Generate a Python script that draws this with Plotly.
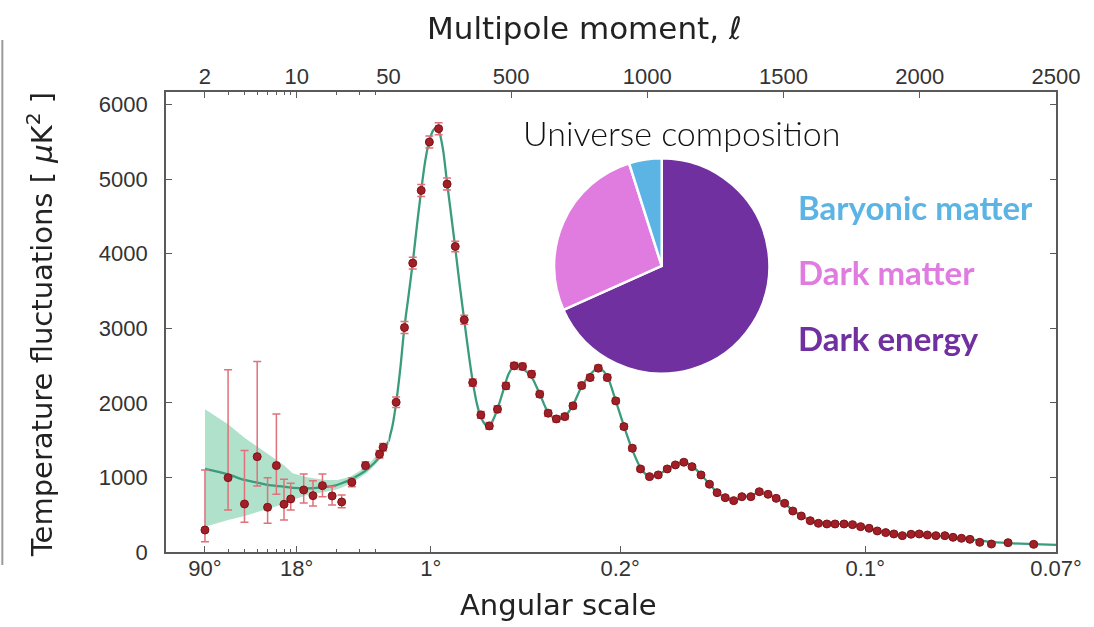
import numpy as np
import plotly.graph_objects as go

# ---------------- data ----------------
# measured band powers (multipole, D_ell in muK^2) with asymmetric errors
ell_pts = [2, 3, 4, 5, 6, 7, 8, 9, 11.3, 13.3, 15.7, 18.6, 22, 26.3, 33.4, 42.7, 45.5,
           78, 108.6, 139, 170, 200, 234, 265, 295, 328, 359, 389, 420, 450, 481, 511,
           542, 575, 605, 636, 666, 697, 727, 759, 790, 820, 853, 884, 914, 945, 975,
           1008, 1040, 1073, 1103, 1134, 1164, 1197, 1228, 1256, 1286, 1317, 1347, 1380,
           1411, 1443, 1473, 1504, 1534, 1565, 1598, 1628, 1659, 1689, 1722, 1753, 1783,
           1814, 1844, 1875, 1905, 1936, 1968, 1998, 2028, 2059, 2092, 2122, 2153, 2184,
           2220, 2263, 2324, 2418]
D_pts = [295, 997, 644, 1279, 600, 1159, 640, 711, 832, 756, 890, 752, 671, 935, 1159, 1311, 1405,
         2009, 3011, 3875, 4850, 5499, 5678, 4935, 4098, 3114, 2272, 1839, 1691, 1915, 2228, 2497,
         2488, 2385, 2117, 1862, 1785, 1816, 1960, 2232, 2340, 2466, 2340, 2027, 1682, 1392, 1114,
         1011, 1034, 1114, 1168, 1204, 1145, 1034, 909, 796, 729, 689, 742, 742,
         809, 774, 720, 653, 550, 483, 420, 385, 376, 376, 376, 367, 340,
         318, 282, 260, 242, 219, 238, 242, 228, 219, 219, 197, 184, 170,
         130, 107, 125, 103]
err_up = [805, 1446, 716, 1275, 397, 693, 336, 211, 215, 201, 157, 125, 94, 60, 50, 50, 50,
          70, 80, 80, 80, 80, 80, 80, 70, 60, 50, 45, 45, 45, 45, 45,
          45, 45, 40, 40, 40, 40, 40, 40, 40, 40, 40, 35, 35, 35, 30]
err_up += [25] * (len(ell_pts) - len(err_up))
err_dn = [157, 433, 246, 393, 215, 385, 210, 147, 174, 139, 148, 121, 76, 60, 50, 50, 50,
          70, 80, 80, 80, 80, 80, 80, 70, 60, 50, 45, 45, 45, 45, 45,
          45, 45, 40, 40, 40, 40, 40, 40, 40, 40, 40, 35, 35, 35, 30]
err_dn += [25] * (len(ell_pts) - len(err_dn))

# best-fit model curve
ell_model = [2, 3, 4, 5, 6, 8, 9, 11, 13, 16, 19, 22, 26, 34, 43, 50,
             65, 78, 93, 108, 124, 139, 155, 170, 185, 200, 215, 225, 235, 250, 265, 280,
             295, 310, 328, 345, 359, 375, 389, 405, 420, 435, 450, 470, 490, 511, 530,
             550, 575, 605, 636, 660, 680, 700, 727, 759, 790, 815, 835, 855, 884, 914,
             945, 975, 1000, 1030, 1060, 1090, 1120, 1140, 1165, 1197, 1228, 1256, 1286,
             1317, 1345, 1375, 1410, 1443, 1473, 1504, 1534, 1565, 1598, 1630, 1660, 1720,
             1753, 1783, 1814, 1844, 1875, 1905, 1936, 1968, 2000, 2060, 2120, 2184, 2250,
             2324, 2418, 2500]
D_model = [1114, 1040, 966, 930, 899, 877, 863, 855, 855, 869, 886, 922, 976, 1101, 1279, 1480,
           1700, 2000, 2450, 3000, 3450, 3880, 4400, 4850, 5250, 5520, 5660, 5690, 5650, 5400, 4950, 4520,
           4080, 3620, 3110, 2640, 2290, 1980, 1810, 1710, 1690, 1780, 1920, 2150, 2380, 2500, 2510,
           2440, 2350, 2120, 1870, 1790, 1790, 1830, 1970, 2220, 2380, 2460, 2440, 2340, 2030, 1690,
           1370, 1130, 1030, 1020, 1080, 1150, 1200, 1200, 1150, 1040, 910, 800, 730,
           700, 720, 760, 790, 770, 720, 650, 560, 485, 425, 390, 378, 375,
           365, 340, 315, 285, 260, 242, 228, 232, 236, 220, 195, 170, 140,
           120, 105, 95]

# cosmic-variance band around the model at low multipoles
ell_band = [2, 3, 4, 5, 6, 7, 8, 9.3, 12, 16.5, 20.5, 25.5, 34, 43, 50]
band_hi = [1915, 1714, 1534, 1414, 1320, 1235, 1163, 1056, 1002, 966, 966, 1011, 1145, 1346, 1520]
band_lo = [340, 430, 483, 533, 573, 610, 644, 698, 765, 809, 841, 913, 1056, 1235, 1440]

top_ticks_log = [2, 10, 50]
top_ticks_lin = [500, 1000, 1500, 2000, 2500]
bottom_vals_log = [2, 10]
bottom_text_log = ['90°', '18°']
bottom_vals_lin = [205, 900, 1800, 2500]
bottom_text_lin = ['1°', '0.2°', '0.1°', '0.07°']
minor_log = [3, 4, 5, 6, 7, 8, 9, 20, 30, 40, 50]
y_ticks = [0, 1000, 2000, 3000, 4000, 5000, 6000]

pie_labels = ['Dark energy', 'Dark matter', 'Baryonic matter']
pie_values = [68.3, 26.8, 4.9]
pie_colors = ['#7030A0', '#E07BE0', '#5BB4E3']

# ---------------- style ----------------
AX = '#5a5a5a'
TXT = '#333333'
LINE = '#3a9c7c'
BAND = 'rgba(150,215,185,0.75)'
PT = '#a31f27'
ERR = '#e0707a'
SPLIT = 0.25
ELL_SPLIT = 50
LOG_RANGE = [np.log10(1.01), np.log10(50) + 1e-6]
LIN_RANGE = [50, 2500]
Y_RANGE = [0, 6170]
TICKFONT = dict(family='Liberation Sans', size=22, color=TXT)

ell_pts_a = np.array(ell_pts, float)
D_pts_a = np.array(D_pts, float)
eu = np.array(err_up, float)
ed = np.array(err_dn, float)
ell_m = np.array(ell_model, float)
D_m = np.array(D_model, float)

fig = go.Figure()

# band (log part only)
fig.add_trace(go.Scatter(x=ell_band, y=band_lo, mode='lines', line=dict(width=0),
                         xaxis='x', yaxis='y', hoverinfo='skip'))
fig.add_trace(go.Scatter(x=ell_band, y=band_hi, mode='lines', line=dict(width=0),
                         fill='tonexty', fillcolor=BAND, xaxis='x', yaxis='y', hoverinfo='skip'))

# model curve on both parts
for mask, xa, ya in [(ell_m <= ELL_SPLIT, 'x', 'y'), (ell_m >= ELL_SPLIT, 'x2', 'y2')]:
    fig.add_trace(go.Scatter(x=ell_m[mask], y=D_m[mask], mode='lines',
                             line=dict(color=LINE, width=2.3, shape='spline', smoothing=0.8),
                             xaxis=xa, yaxis=ya, hoverinfo='skip'))

# data points
for mask, xa, ya in [(ell_pts_a <= ELL_SPLIT, 'x', 'y'), (ell_pts_a > ELL_SPLIT, 'x2', 'y2')]:
    fig.add_trace(go.Scatter(
        x=ell_pts_a[mask], y=D_pts_a[mask], mode='markers',
        marker=dict(color=PT, size=8, line=dict(color='#7a1418', width=1)),
        error_y=dict(type='data', symmetric=False, array=eu[mask], arrayminus=ed[mask],
                     color=ERR, thickness=1.5, width=4),
        xaxis=xa, yaxis=ya))

# invisible traces so the top axes exist
fig.add_trace(go.Scatter(x=ell_pts_a[ell_pts_a <= ELL_SPLIT], y=D_pts_a[ell_pts_a <= ELL_SPLIT],
                         mode='markers', opacity=0, xaxis='x3', yaxis='y', hoverinfo='skip'))
fig.add_trace(go.Scatter(x=ell_pts_a[ell_pts_a > ELL_SPLIT], y=D_pts_a[ell_pts_a > ELL_SPLIT],
                         mode='markers', opacity=0, xaxis='x4', yaxis='y2', hoverinfo='skip'))

# pie inset
fig.add_trace(go.Pie(labels=pie_labels, values=pie_values, sort=False, direction='clockwise',
                     rotation=0, textinfo='none', hoverinfo='label+percent',
                     marker=dict(colors=pie_colors, line=dict(color='white', width=2.5)),
                     domain=dict(x=[0.436, 0.678], y=[0.387, 0.857])))

common = dict(ticks='inside', ticklen=6, tickwidth=1.2, tickcolor=AX, showline=True,
              linecolor=AX, linewidth=1.6, showgrid=False, zeroline=False, tickfont=TICKFONT)

fig.update_layout(
    width=1094, height=627, margin=dict(l=166, r=36, t=92, b=75),
    plot_bgcolor='white', paper_bgcolor='white', showlegend=False,
    xaxis=dict(domain=[0, SPLIT], type='log', range=LOG_RANGE, tickmode='array',
               tickvals=bottom_vals_log, ticktext=bottom_text_log, anchor='y',
               minor=dict(tickvals=minor_log, ticks='inside', ticklen=3, tickcolor=AX),
               ticklabelstandoff=-4, **common),
    xaxis2=dict(domain=[SPLIT, 1], range=LIN_RANGE, tickmode='array',
                tickvals=bottom_vals_lin, ticktext=bottom_text_lin, anchor='y2',
                ticklabelstandoff=-4, **common),
    xaxis3=dict(overlaying='x', side='top', type='log', range=LOG_RANGE, tickmode='array',
                tickvals=top_ticks_log, ticktext=[str(v) for v in top_ticks_log], anchor='y',
                minor=dict(tickvals=minor_log, ticks='inside', ticklen=3, tickcolor=AX),
                ticklabelstandoff=-3, **common),
    xaxis4=dict(overlaying='x2', side='top', range=LIN_RANGE, tickmode='array',
                tickvals=top_ticks_lin, ticktext=[str(v) for v in top_ticks_lin], anchor='y2',
                ticklabelstandoff=-3, **common),
    yaxis=dict(range=Y_RANGE, tickmode='array', tickvals=y_ticks, anchor='x',
               ticklabelstandoff=12, **common),
    yaxis2=dict(range=Y_RANGE, tickmode='array', tickvals=y_ticks, anchor='x2', side='right',
                showticklabels=False, **common),
    annotations=[
        dict(text='Multipole moment, <i>ℓ</i>', xref='paper', yref='paper', x=0.4697, y=1.139,
             xanchor='center', yanchor='middle', showarrow=False,
             font=dict(family='DejaVu Sans', size=31, color='#222')),
        dict(text='Angular scale', xref='paper', yref='paper', x=0.4406, y=-0.115,
             xanchor='center', yanchor='middle', showarrow=False,
             font=dict(family='DejaVu Sans', size=29, color='#222')),
        dict(text='Temperature fluctuations [ <i>μ</i>K<sup>2</sup> ]', xref='paper', yref='paper',
             x=-0.1413, y=0.4935, textangle=-90, xanchor='center', yanchor='middle',
             showarrow=False, font=dict(family='DejaVu Sans', size=29, color='#222')),
        dict(text='Universe composition', xref='paper', yref='paper', x=0.5796, y=0.913,
             xanchor='center', yanchor='middle', showarrow=False,
             font=dict(family='Lato', size=34, color='#111', weight=300)),
        dict(text='<b>Baryonic matter</b>', xref='paper', yref='paper', x=0.7074, y=0.75,
             xanchor='left', yanchor='middle', showarrow=False,
             font=dict(family='Lato', size=33, color=pie_colors[2])),
        dict(text='<b>Dark matter</b>', xref='paper', yref='paper', x=0.7074, y=0.6087,
             xanchor='left', yanchor='middle', showarrow=False,
             font=dict(family='Lato', size=33, color=pie_colors[1])),
        dict(text='<b>Dark energy</b>', xref='paper', yref='paper', x=0.7074, y=0.4652,
             xanchor='left', yanchor='middle', showarrow=False,
             font=dict(family='Lato', size=33, color=pie_colors[0])),
    ],
    shapes=[dict(type='line', xref='paper', yref='paper', x0=-0.1839, x1=-0.1839,
                 y0=1.113, y1=-0.028, line=dict(color='#9a9a9a', width=2))],
)

fig.write_html('out.html')
